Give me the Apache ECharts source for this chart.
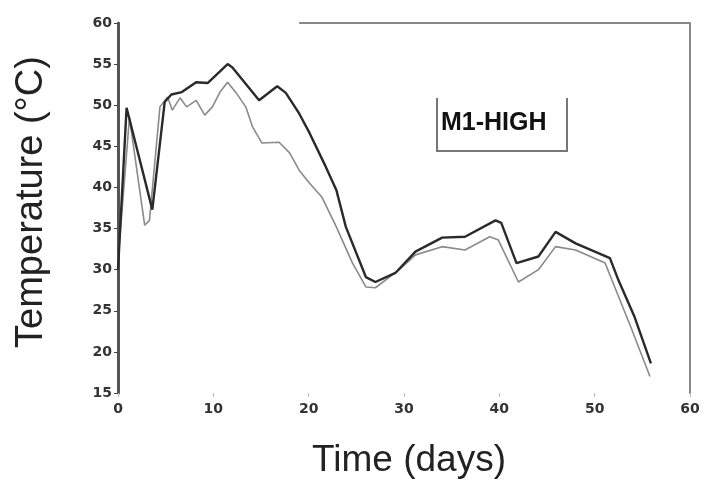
<!DOCTYPE html>
<html>
<head>
<meta charset="utf-8">
<script src="https://cdn.jsdelivr.net/npm/echarts@6/dist/echarts.min.js"></script>
<style>html,body{margin:0;padding:0;background:#fff}#c{width:701px;height:480px}</style>
</head>
<body>
<div id="c"></div>
<script>
// Upper (dark) temperature curve: [day, °C]
var darkSeries = [[0,30],[0.9,49.7],[3.6,37.3],[4.9,50.4],[5.6,51.3],[6.7,51.6],[8.2,52.8],[9.4,52.7],[11.5,55.0],[12,54.6],[14.8,50.6],[16.7,52.3],[17.6,51.5],[19,49],[20.1,46.6],[21.8,42.5],[22.9,39.7],[23.9,35.2],[26,29.1],[27,28.5],[29.1,29.6],[31.2,32.2],[34,33.9],[36.4,34],[39.6,36],[40.2,35.7],[41.8,30.8],[44.1,31.6],[45.9,34.6],[48,33.2],[51.6,31.4],[52.5,28.7],[54.2,24.2],[55.9,18.6]];
// Lower (grey) temperature curve: [day, °C]
var graySeries = [[0,31],[1.2,48.5],[2.8,35.4],[3.3,36],[4.4,49.8],[5.2,51],[5.7,49.4],[6.5,50.9],[7.2,49.8],[8.2,50.6],[9.1,48.8],[9.9,49.8],[10.7,51.6],[11.5,52.8],[12.4,51.5],[13.4,49.8],[14.1,47.4],[15.1,45.4],[16.9,45.5],[18,44.2],[19,42.1],[20.1,40.5],[21.4,38.8],[22.9,35.2],[24.6,30.8],[26,27.9],[27,27.8],[29.5,30],[31.2,31.8],[34,32.8],[36.4,32.4],[39,34],[39.9,33.6],[42,28.5],[44.1,30],[45.9,32.8],[48,32.4],[51.1,30.8],[52.1,27.9],[53.8,23],[55.8,17]];
var xTicks = {min:0, max:60, step:10};
var yTicks = {min:15, max:60, step:5};
var xTitle = 'Time (days)';
var yTitle = 'Temperature (°C)';
var panelLabel = 'M1-HIGH';

var chart = echarts.init(document.getElementById('c'), null, {renderer:'canvas'});
var tickFont = {fontFamily:'DejaVu Sans', fontWeight:'bold', fontSize:14, color:'#333'};
chart.setOption({
  animation:false,
  backgroundColor:'#fff',
  grid:{left:118, right:11, top:23, bottom:87, containLabel:false, outerBoundsMode:'none'},
  xAxis:{type:'value', min:xTicks.min, max:xTicks.max, interval:xTicks.step,
    name:xTitle, nameLocation:'middle', nameGap:49,
    nameTextStyle:{fontFamily:'Liberation Sans', fontSize:37, color:'#222', padding:[0,0,0,10]},
    axisLine:{show:false}, axisTick:{show:true, length:4, lineStyle:{color:'#bbb'}},
    splitLine:{show:false},
    axisLabel:Object.assign({margin:9}, tickFont)},
  yAxis:[{type:'value', min:yTicks.min, max:yTicks.max, interval:yTicks.step,
    name:yTitle, nameLocation:'middle', nameGap:67, nameRotate:90,
    nameTextStyle:{fontFamily:'Liberation Sans', fontSize:38, color:'#222', padding:[0,0,0,12]},
    axisLine:{show:true, lineStyle:{color:'#555', width:3}},
    axisTick:{show:true, length:4, lineStyle:{color:'#444'}},
    splitLine:{show:false},
    axisLabel:Object.assign({margin:6}, tickFont)},
   {type:'value', position:'right', min:yTicks.min, max:yTicks.max, interval:yTicks.step,
    axisLine:{show:true, lineStyle:{color:'#888', width:2}},
    axisTick:{show:false}, axisLabel:{show:false}, splitLine:{show:false}}],
  series:[
    {type:'line', data:graySeries, symbol:'none', lineStyle:{color:'#8a8a8a', width:1.6}, z:2},
    {type:'line', data:darkSeries, symbol:'none', lineStyle:{color:'#2a2a2a', width:2.4}, z:3,
     markLine:{silent:true, symbol:'none', label:{show:false},
       lineStyle:{color:'#888', width:2, type:'solid'},
       data:[[{coord:[19,60]},{coord:[60,60]}]]}}
  ],
  graphic:[
    {type:'polyline', shape:{points:[[437,98],[437,151],[567,151],[567,98]]}, style:{stroke:'#777', lineWidth:2, fill:null}},
    {type:'text', left:441, top:111, style:{text:panelLabel, font:'bold 25px "Liberation Sans"', fill:'#111'}}
  ]
});
</script>
</body>
</html>
